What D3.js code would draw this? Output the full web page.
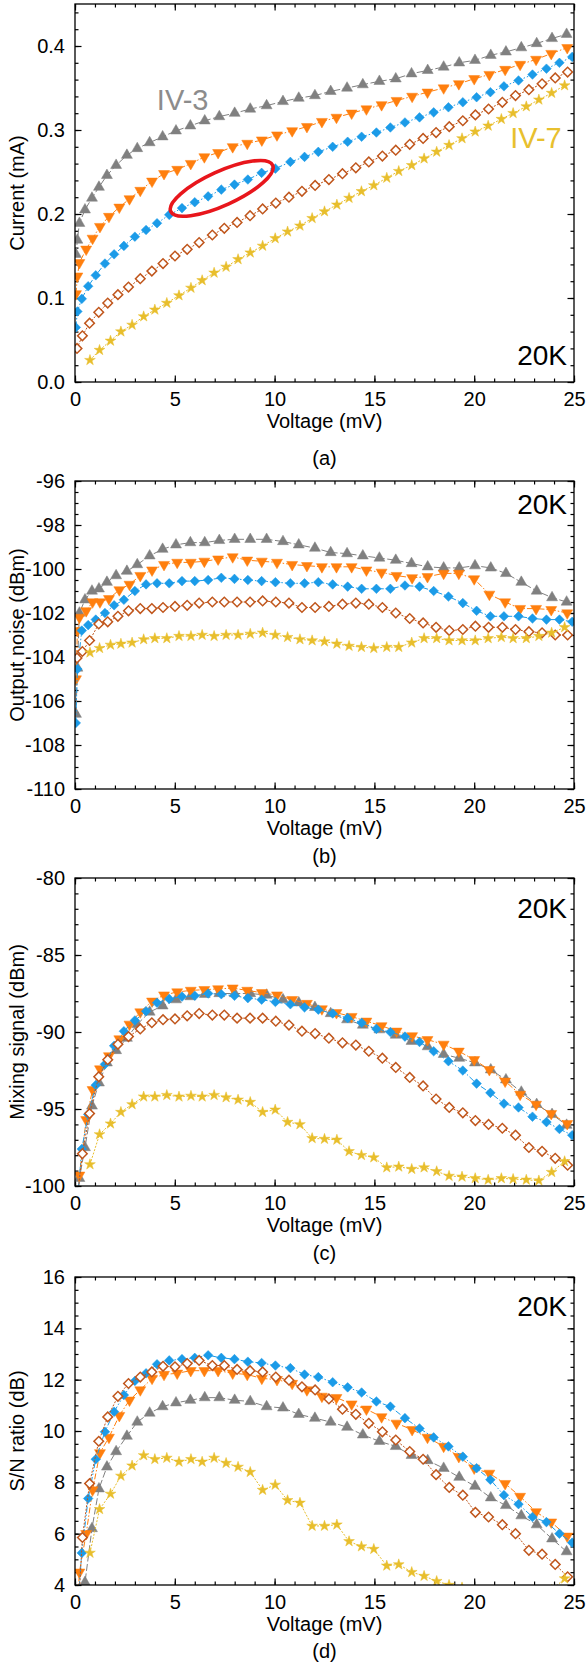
<!DOCTYPE html>
<html>
<head>
<meta charset="utf-8">
<script src="https://cdn.jsdelivr.net/npm/d3@7"></script>
<style>
  html, body { margin: 0; padding: 0; background: #fff; }
  svg { display: block; }
  text { font-family: "Liberation Sans", Arial, sans-serif; }
</style>
</head>
<body>
<svg id="fig" width="587" height="1664"></svg>
<script>
// ---- Bias sweeps (voltage in mV) and measured quantities per device ----

// IV-3 (grey, up triangles)
const volt_iv3 = [0.05, 0.12, 0.22, 0.5, 0.85, 1.2, 1.6, 2.06, 2.6, 3.12, 3.74, 4.39, 5.06, 5.78, 6.5, 7.23, 8.0, 8.78, 9.6, 10.42, 11.21, 12.02, 12.81, 13.63, 14.42, 15.25, 16.07, 16.86, 17.67, 18.47, 19.25, 20.04, 20.83, 21.59, 22.36, 23.13, 23.9, 24.63];
const current_iv3 = [0.152, 0.169, 0.189, 0.205, 0.219, 0.232, 0.246, 0.258, 0.27, 0.278, 0.285, 0.292, 0.299, 0.305, 0.311, 0.316, 0.32, 0.325, 0.329, 0.334, 0.338, 0.341, 0.346, 0.35, 0.354, 0.358, 0.361, 0.367, 0.371, 0.375, 0.38, 0.383, 0.389, 0.393, 0.398, 0.403, 0.409, 0.414];
const noise_iv3 = [-106.6, -104.5, -102.0, -101.4, -101.0, -100.9, -100.6, -100.3, -100.1, -99.8, -99.4, -99.1, -98.9, -98.8, -98.8, -98.7, -98.65, -98.65, -98.65, -98.75, -98.9, -99.05, -99.25, -99.3, -99.4, -99.5, -99.6, -99.75, -99.9, -99.95, -99.95, -99.85, -99.95, -100.2, -100.6, -101.0, -101.3, -101.5];
const mixing_iv3 = [-104, -101, -99.5, -97.5, -94.8, -93.3, -92.0, -91.2, -90.4, -89.5, -88.7, -88.3, -87.9, -87.7, -87.55, -87.5, -87.5, -87.5, -87.6, -87.9, -88.1, -88.4, -88.8, -89.2, -89.55, -89.85, -90.2, -90.6, -90.95, -91.45, -91.7, -92.0, -92.45, -93.1, -93.9, -94.7, -95.35, -96.05];
const snr_iv3 = [0.5, 1.5, 2.5, 4.1, 6.2, 7.75, 8.6, 9.2, 9.8, 10.35, 10.7, 10.95, 11.1, 11.2, 11.3, 11.3, 11.2, 11.15, 10.95, 10.9, 10.65, 10.5, 10.35, 10.15, 9.85, 9.6, 9.4, 9.05, 8.85, 8.55, 8.2, 7.85, 7.4, 7.1, 6.7, 6.35, 5.8, 5.3];

// IV-4 (orange, down triangles)
const volt_iv4 = [0.05, 0.12, 0.22, 0.56, 0.88, 1.25, 1.7, 2.22, 2.73, 3.27, 3.86, 4.46, 5.12, 5.8, 6.48, 7.17, 7.9, 8.63, 9.36, 10.12, 10.88, 11.62, 12.37, 13.1, 13.86, 14.6, 15.36, 16.11, 16.89, 17.66, 18.47, 19.23, 20.0, 20.76, 21.55, 22.3, 23.1, 23.86, 24.66];
const current_iv4 = [0.105, 0.126, 0.142, 0.158, 0.171, 0.185, 0.197, 0.208, 0.218, 0.228, 0.239, 0.248, 0.253, 0.26, 0.268, 0.273, 0.28, 0.284, 0.288, 0.294, 0.299, 0.304, 0.31, 0.315, 0.32, 0.325, 0.33, 0.335, 0.34, 0.345, 0.35, 0.355, 0.361, 0.366, 0.372, 0.378, 0.384, 0.391, 0.398];
const noise_iv4 = [-105.0, -102.8, -102.2, -101.9, -101.5, -101.5, -101.35, -100.95, -100.7, -100.3, -100.05, -99.8, -99.7, -99.7, -99.65, -99.55, -99.45, -99.6, -99.65, -99.7, -99.8, -99.85, -99.9, -99.9, -99.9, -100.05, -100.15, -100.3, -100.4, -100.35, -100.2, -100.2, -100.45, -101.15, -101.5, -101.8, -101.8, -101.85, -102.0];
const mixing_iv4 = [-104, -101, -99.3, -95.7, -93.75, -92.4, -91.55, -90.45, -89.5, -88.7, -88.0, -87.6, -87.4, -87.3, -87.25, -87.2, -87.15, -87.3, -87.45, -87.6, -87.9, -88.15, -88.5, -88.75, -89.0, -89.3, -89.6, -89.95, -90.25, -90.5, -90.8, -91.25, -91.8, -92.45, -93.2, -94.05, -94.7, -95.3, -95.95];
const snr_iv4 = [1, 3, 4.5, 6.0, 7.7, 9.15, 9.75, 10.6, 11.2, 11.6, 12.05, 12.2, 12.25, 12.35, 12.35, 12.35, 12.25, 12.2, 12.05, 12.0, 11.85, 11.6, 11.35, 11.3, 11.05, 10.85, 10.55, 10.3, 10.05, 9.75, 9.4, 9.0, 8.55, 8.35, 7.95, 7.45, 6.85, 6.45, 5.9];

// IV-5 (blue, filled diamonds)
const volt_iv5 = [0.04, 0.12, 0.34, 0.66, 1.04, 1.5, 1.96, 2.45, 3.0, 3.56, 4.11, 4.72, 5.36, 6.0, 6.67, 7.33, 7.99, 8.66, 9.35, 10.04, 10.79, 11.5, 12.19, 12.91, 13.66, 14.36, 15.1, 15.8, 16.53, 17.26, 17.97, 18.71, 19.43, 20.12, 20.81, 21.49, 22.22, 22.92, 23.62, 24.27, 24.91];
const current_iv5 = [0.065, 0.084, 0.099, 0.114, 0.127, 0.141, 0.152, 0.162, 0.173, 0.181, 0.189, 0.199, 0.207, 0.214, 0.221, 0.229, 0.235, 0.241, 0.249, 0.254, 0.262, 0.268, 0.274, 0.28, 0.286, 0.292, 0.297, 0.303, 0.309, 0.315, 0.321, 0.327, 0.333, 0.339, 0.345, 0.352, 0.359, 0.366, 0.373, 0.38, 0.387];
const noise_iv5 = [-107.0, -104.55, -102.8, -102.55, -102.3, -102.0, -101.65, -101.4, -101.0, -100.7, -100.65, -100.65, -100.55, -100.55, -100.5, -100.4, -100.45, -100.5, -100.55, -100.6, -100.65, -100.65, -100.6, -100.7, -100.8, -100.9, -100.9, -100.9, -100.75, -100.8, -101.0, -101.25, -101.55, -101.9, -102.15, -102.15, -102.15, -102.25, -102.3, -102.3, -102.4];
const mixing_iv5 = [-104, -101, -97.6, -95.35, -93.45, -92.1, -90.9, -89.95, -89.25, -88.65, -88.1, -87.85, -87.7, -87.65, -87.5, -87.55, -87.65, -87.8, -87.9, -88.05, -88.2, -88.4, -88.55, -88.8, -89.1, -89.4, -89.8, -90.0, -90.3, -90.65, -91.25, -91.9, -92.5, -93.35, -93.95, -94.65, -94.9, -95.5, -95.85, -96.3, -96.7];
const snr_iv5 = [1, 3, 5.25, 7.37, 8.9, 9.97, 10.75, 11.4, 11.95, 12.25, 12.6, 12.75, 12.8, 12.85, 12.95, 12.85, 12.8, 12.7, 12.65, 12.55, 12.45, 12.2, 12.1, 11.9, 11.7, 11.5, 11.15, 10.95, 10.5, 10.1, 9.75, 9.4, 9.0, 8.55, 8.1, 7.5, 7.15, 6.65, 6.45, 6.0, 5.65];

// IV-6 (brown, open diamonds)
const volt_iv6 = [0.1, 0.37, 0.73, 1.19, 1.64, 2.15, 2.68, 3.27, 3.85, 4.41, 5.01, 5.62, 6.22, 6.88, 7.48, 8.12, 8.77, 9.4, 10.06, 10.72, 11.37, 12.03, 12.72, 13.4, 14.07, 14.72, 15.4, 16.07, 16.77, 17.44, 18.09, 18.75, 19.43, 20.06, 20.72, 21.41, 22.07, 22.74, 23.4, 24.06, 24.68];
const current_iv6 = [0.04, 0.055, 0.07, 0.083, 0.094, 0.104, 0.113, 0.123, 0.132, 0.141, 0.15, 0.158, 0.166, 0.175, 0.183, 0.19, 0.198, 0.206, 0.213, 0.22, 0.227, 0.234, 0.241, 0.248, 0.255, 0.262, 0.269, 0.276, 0.283, 0.29, 0.297, 0.304, 0.311, 0.318, 0.325, 0.333, 0.341, 0.348, 0.355, 0.362, 0.369];
const noise_iv6 = [-104.05, -103.75, -103.25, -102.5, -102.4, -102.15, -101.9, -101.8, -101.8, -101.75, -101.7, -101.65, -101.55, -101.5, -101.5, -101.5, -101.5, -101.45, -101.5, -101.55, -101.75, -101.75, -101.7, -101.6, -101.55, -101.6, -101.75, -102.0, -102.25, -102.45, -102.65, -102.8, -102.75, -102.6, -102.65, -102.65, -102.75, -102.85, -102.9, -103.0, -103.0];
const mixing_iv6 = [-101, -97.9, -95.3, -92.9, -91.8, -90.8, -90.3, -89.8, -89.4, -89.2, -89.15, -88.95, -88.8, -88.9, -88.9, -89.1, -89.1, -89.1, -89.3, -89.55, -89.95, -90.1, -90.4, -90.7, -90.85, -91.25, -91.7, -92.3, -92.95, -93.5, -94.35, -94.9, -95.25, -95.75, -96.0, -96.25, -96.7, -97.5, -97.75, -98.2, -98.65];
const snr_iv6 = [2, 5.85, 7.95, 9.6, 10.55, 11.35, 11.85, 12.1, 12.3, 12.52, 12.5, 12.63, 12.75, 12.55, 12.55, 12.4, 12.35, 12.3, 12.1, 11.98, 11.72, 11.6, 11.25, 10.85, 10.65, 10.3, 9.97, 9.65, 9.2, 8.9, 8.3, 7.8, 7.5, 6.83, 6.65, 6.35, 6.0, 5.35, 5.2, 4.8, 4.32];

// IV-7 (yellow, stars)
const volt_iv7 = [0.75, 1.23, 1.78, 2.3, 2.86, 3.44, 4.0, 4.6, 5.21, 5.81, 6.37, 6.97, 7.57, 8.17, 8.78, 9.4, 10.03, 10.65, 11.27, 11.88, 12.5, 13.12, 13.73, 14.35, 14.97, 15.62, 16.22, 16.87, 17.49, 18.12, 18.74, 19.39, 20.05, 20.7, 21.36, 21.95, 22.61, 23.24, 23.88, 24.53];
const current_iv7 = [0.026, 0.038, 0.049, 0.06, 0.068, 0.078, 0.086, 0.094, 0.103, 0.112, 0.121, 0.13, 0.137, 0.146, 0.154, 0.162, 0.171, 0.179, 0.186, 0.195, 0.203, 0.211, 0.219, 0.227, 0.234, 0.243, 0.251, 0.258, 0.266, 0.274, 0.282, 0.29, 0.298, 0.305, 0.313, 0.32, 0.328, 0.336, 0.344, 0.353];
const noise_iv7 = [-103.8, -103.6, -103.45, -103.4, -103.35, -103.2, -103.15, -103.15, -103.05, -103.05, -103.0, -103.05, -103.0, -103.0, -102.95, -102.9, -103.0, -103.1, -103.2, -103.25, -103.3, -103.4, -103.5, -103.55, -103.6, -103.55, -103.55, -103.35, -103.15, -103.15, -103.25, -103.25, -103.25, -103.15, -103.1, -103.15, -103.15, -103.05, -102.9, -102.65];
const mixing_iv7 = [-98.6, -96.65, -95.95, -95.2, -94.7, -94.2, -94.2, -94.1, -94.2, -94.15, -94.2, -94.1, -94.25, -94.4, -94.55, -95.2, -95.05, -95.85, -96.0, -96.9, -96.95, -97.0, -97.75, -98.0, -98.15, -98.8, -98.75, -98.9, -98.8, -99.05, -99.35, -99.4, -99.5, -99.6, -99.5, -99.55, -99.6, -99.65, -99.1, -98.4];
const snr_iv7 = [5.25, 6.95, 7.55, 8.25, 8.65, 9.05, 8.9, 8.95, 8.8, 8.9, 8.8, 8.95, 8.75, 8.6, 8.4, 7.7, 7.9, 7.3, 7.2, 6.3, 6.3, 6.35, 5.7, 5.5, 5.4, 4.75, 4.8, 4.5, 4.35, 4.15, 4.0, 3.9, 3.7, 3.5, 3.5, 3.4, 3.4, 3.4, 3.8, 4.25];

// ---- Axis ticks ----
const voltageTicks = [0, 5, 10, 15, 20, 25];
const currentTicks = [0.0, 0.1, 0.2, 0.3, 0.4];
const currentTickLabels = ["0.0", "0.1", "0.2", "0.3", "0.4"];
const noiseTicks = [-110, -108, -106, -104, -102, -100, -98, -96];
const mixingTicks = [-100, -95, -90, -85, -80];
const snrTicks = [4, 6, 8, 10, 12, 14, 16];

// ---- Figure layout ----
const svg = d3.select("#fig");
const plotLeft = 75, plotRight = 574;
const x = d3.scaleLinear().domain([0, 25]).range([plotLeft, plotRight]);

const devices = [
  { name: "IV-3", color: "#808080", marker: "up",      dash: "7,2.5",           volt: volt_iv3, current: current_iv3, noise: noise_iv3, mixing: mixing_iv3, snr: snr_iv3 },
  { name: "IV-4", color: "#ff7f0e", marker: "down",    dash: "6,2,1.5,2",       volt: volt_iv4, current: current_iv4, noise: noise_iv4, mixing: mixing_iv4, snr: snr_iv4 },
  { name: "IV-5", color: "#1b9be8", marker: "diamond", dash: "6,2,1.5,2,1.5,2", volt: volt_iv5, current: current_iv5, noise: noise_iv5, mixing: mixing_iv5, snr: snr_iv5 },
  { name: "IV-6", color: "#c0561c", marker: "open",    dash: "2,1.5",           volt: volt_iv6, current: current_iv6, noise: noise_iv6, mixing: mixing_iv6, snr: snr_iv6 },
  { name: "IV-7", color: "#e8be2c", marker: "star",    dash: "2,1.5",           volt: volt_iv7, current: current_iv7, noise: noise_iv7, mixing: mixing_iv7, snr: snr_iv7 }
];

const panels = [
  { field: "current", top: 4,    bottom: 382,  domain: [0, 0.45],   ticks: currentTicks, fmt: (d, i) => currentTickLabels[i], minorStep: 0.02, title: "Current (mA)",        tag: "(a)", tagY: 465,  kY: 0.02 },
  { field: "noise",   top: 481,  bottom: 789,  domain: [-110, -96], ticks: noiseTicks,   fmt: d => String(d),            minorStep: 0.5,  title: "Output noise (dBm)",  tag: "(b)", tagY: 863,  kY: -97.5 },
  { field: "mixing",  top: 878,  bottom: 1186, domain: [-100, -80], ticks: mixingTicks,  fmt: d => String(d),            minorStep: 1,    title: "Mixing signal (dBm)", tag: "(c)", tagY: 1260, kY: -82.6 },
  { field: "snr",     top: 1277, bottom: 1585, domain: [4, 16],     ticks: snrTicks,     fmt: d => String(d),            minorStep: 0.5,  title: "S/N ratio (dB)",      tag: "(d)", tagY: 1658, kY: 14.5 }
];

function markerPath(kind) {
  if (kind === "up" || kind === "down") return d3.symbol(d3.symbolTriangle, 52)();
  if (kind === "diamond" || kind === "open") return d3.symbol(d3.symbolSquare, 46)();
  return d3.symbol(d3.symbolStar, 36)();
}
function markerRotate(kind) {
  if (kind === "down") return 180;
  if (kind === "diamond" || kind === "open") return 45;
  return 0;
}

const fontTick = 20;

panels.forEach((p, pi) => {
  const y = d3.scaleLinear().domain(p.domain).range([p.bottom, p.top]);
  const g = svg.append("g");

  const clipId = "clip" + pi;
  svg.append("defs").append("clipPath").attr("id", clipId)
    .append("rect").attr("x", plotLeft).attr("y", p.top)
    .attr("width", plotRight - plotLeft).attr("height", p.bottom - p.top);

  // minor ticks on all four sides, pointing inward
  const minorX = d3.range(0, 25.001, 1);
  const minorY = d3.range(p.domain[0], p.domain[1] + 1e-9, p.minorStep);
  const styleAxis = sel => {
    sel.select(".domain").remove();
    sel.selectAll(".tick line").attr("stroke", "#000").attr("stroke-width", 1.2);
  };
  g.append("g").attr("transform", `translate(0,${p.bottom})`)
    .call(d3.axisBottom(x).tickValues(minorX).tickSizeInner(-3.5).tickSizeOuter(0).tickFormat(""))
    .call(styleAxis);
  g.append("g").attr("transform", `translate(0,${p.top})`)
    .call(d3.axisTop(x).tickValues(minorX).tickSizeInner(-3.5).tickSizeOuter(0).tickFormat(""))
    .call(styleAxis);
  g.append("g").attr("transform", `translate(${plotLeft},0)`)
    .call(d3.axisLeft(y).tickValues(minorY).tickSizeInner(-3.5).tickSizeOuter(0).tickFormat(""))
    .call(styleAxis);
  g.append("g").attr("transform", `translate(${plotRight},0)`)
    .call(d3.axisRight(y).tickValues(minorY).tickSizeInner(-3.5).tickSizeOuter(0).tickFormat(""))
    .call(styleAxis);

  // major ticks + labels
  const styleLabels = sel => {
    styleAxis(sel);
    sel.selectAll(".tick text").attr("font-size", fontTick)
      .attr("font-family", '"Liberation Sans", Arial, sans-serif').attr("fill", "#000");
  };
  g.append("g").attr("transform", `translate(0,${p.bottom})`)
    .call(d3.axisBottom(x).tickValues(voltageTicks).tickSizeInner(-6.5).tickSizeOuter(0).tickPadding(9.5).tickFormat(d => String(d)))
    .call(styleLabels);
  g.append("g").attr("transform", `translate(0,${p.top})`)
    .call(d3.axisTop(x).tickValues(voltageTicks).tickSizeInner(-6.5).tickSizeOuter(0).tickFormat(""))
    .call(styleAxis);
  g.append("g").attr("transform", `translate(${plotLeft},0)`)
    .call(d3.axisLeft(y).tickValues(p.ticks).tickSizeInner(-6.5).tickSizeOuter(0).tickPadding(10).tickFormat(p.fmt))
    .call(styleLabels);
  g.append("g").attr("transform", `translate(${plotRight},0)`)
    .call(d3.axisRight(y).tickValues(p.ticks).tickSizeInner(-6.5).tickSizeOuter(0).tickFormat(""))
    .call(styleAxis);

  // data
  const data = g.append("g").attr("clip-path", `url(#${clipId})`);
  devices.forEach(dev => {
    const pts = dev.volt.map((v, i) => [v, dev[p.field][i]]);
    data.append("path")
      .attr("d", d3.line().x(d => x(d[0])).y(d => y(d[1]))(pts))
      .attr("fill", "none").attr("stroke", dev.color)
      .attr("stroke-width", 1).attr("stroke-dasharray", dev.dash);
    const path = markerPath(dev.marker), rot = markerRotate(dev.marker);
    data.selectAll(null).data(pts).enter().append("path")
      .attr("d", path)
      .attr("transform", d => `translate(${x(d[0])},${y(d[1])}) rotate(${rot})`)
      .attr("fill", dev.marker === "open" ? "#fff" : dev.color)
      .attr("stroke", dev.color)
      .attr("stroke-width", dev.marker === "open" ? 1.5 : 0.5);
  });

  // frame
  g.append("rect").attr("x", plotLeft).attr("y", p.top)
    .attr("width", plotRight - plotLeft).attr("height", p.bottom - p.top)
    .attr("fill", "none").attr("stroke", "#000").attr("stroke-width", 1.3);

  // temperature tag
  g.append("text").attr("x", x(24.65)).attr("y", y(p.kY))
    .attr("text-anchor", "end").attr("font-size", 28).attr("fill", "#000").text("20K");

  // axis titles
  g.append("text").attr("x", (plotLeft + plotRight) / 2).attr("y", p.bottom + 46)
    .attr("text-anchor", "middle").attr("font-size", 20).text("Voltage (mV)");
  g.append("text")
    .attr("transform", `translate(23.5,${(p.top + p.bottom) / 2}) rotate(-90)`)
    .attr("text-anchor", "middle").attr("font-size", 20).text(p.title);

  // panel letter
  g.append("text").attr("x", (plotLeft + plotRight) / 2).attr("y", p.tagY)
    .attr("text-anchor", "middle").attr("font-size", 20)
    .attr("font-family", '"Liberation Serif", "Times New Roman", serif').text(p.tag);

  if (p.field === "current") {
    // device labels
    g.append("text").attr("x", x(4.1)).attr("y", y(0.324))
      .attr("font-size", 29).attr("fill", "#8c8c8c").text("IV-3");
    g.append("text").attr("x", x(21.8)).attr("y", y(0.279))
      .attr("font-size", 29).attr("fill", "#e8c02e").text("IV-7");
    // highlighted region on the IV-5 curve
    g.append("ellipse")
      .attr("cx", x(7.35)).attr("cy", y(0.2305))
      .attr("rx", 56).attr("ry", 17)
      .attr("transform", `rotate(-24.5,${x(7.35)},${y(0.2305)})`)
      .attr("fill", "none").attr("stroke", "#e8161c").attr("stroke-width", 3.6);
  }
});
</script>
</body>
</html>
